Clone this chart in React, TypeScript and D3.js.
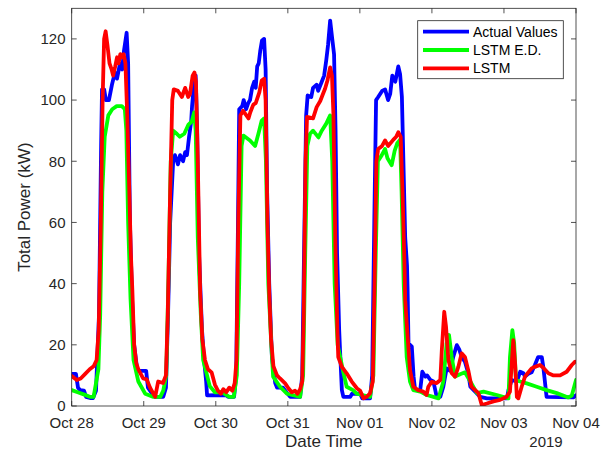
import React from 'react';
import * as d3 from 'd3';

// hours since Oct 28 2019 00:00 (UTC), value in kW
const actual: [number, number][] = [
  [0, 10.5], [1.4, 10.5], [2.1, 6], [2.8, 5.2], [4.1, 5], [4.8, 3], [6.1, 2.6], [7.1, 2.6], [8.1, 5],
  [9.1, 30], [9.8, 85], [10.1, 103.5], [10.8, 103.5], [11.4, 100], [12.4, 100], [13.4, 105], [14.4, 109],
  [15.1, 107], [16.1, 112], [16.8, 110], [17.4, 116], [18.3, 122], [18.8, 112], [19.4, 60], [20.1, 35],
  [20.8, 20], [21.8, 12], [22.8, 11.5], [24.8, 11.5], [25.4, 6], [26.8, 4], [27.8, 3], [30.5, 3],
  [31.4, 6], [32.1, 30],
  [32.8, 60], [33.8, 80], [34.4, 82], [35.4, 79], [36.1, 82], [37.1, 80], [37.8, 83], [38.4, 82],
  [39.1, 88], [39.8, 93], [40.1, 98], [40.8, 106], [41.3, 108], [41.8, 90], [42.4, 50], [43.4, 25],
  [44.1, 15], [44.8, 8], [45.1, 3.5], [51.4, 3.6], [52.1, 3], [54.1, 3], [54.8, 10], [55.4, 60],
  [55.8, 97], [56.8, 98], [57.3, 100], [58.1, 97], [58.8, 99], [59.4, 100], [60.1, 104], [60.8, 106],
  [61.3, 104], [61.8, 111], [62.3, 112], [62.8, 116], [63.4, 119.5], [64.1, 120], [64.6, 110],
  [65.1, 70], [65.8, 40], [66.7, 16], [67.8, 7.5], [68.4, 6], [70.4, 6], [71.7, 4.3], [72.8, 3],
  [76.1, 3], [76.8, 10], [77.4, 50],
  [78.1, 95], [78.6, 101.5], [79.8, 101], [80.4, 104], [81.6, 105], [82.1, 103], [83.3, 106],
  [84.1, 108], [84.8, 113], [85.4, 118], [86.1, 126], [86.8, 120], [87.4, 115], [87.9, 90],
  [88.4, 50], [89.1, 25], [89.4, 18], [90, 5.2], [90.5, 3], [92.8, 3], [93.4, 4], [96.1, 4],
  [96.8, 2.5], [99.4, 2.5], [100.1, 10], [100.8, 60],
  [101.4, 100], [102.1, 101], [103.4, 103], [104.4, 103.5], [105.4, 100], [106.1, 102], [106.8, 108],
  [107.8, 106], [108.8, 111], [109.4, 108.5], [110, 101], [110.5, 80], [111.1, 55], [111.7, 46],
  [111.9, 38], [112.2, 20.5], [113.3, 19.4], [113.9, 9.6], [114.4, 5.2], [116.1, 5.2], [116.8, 11.2],
  [117.8, 9.6], [118.4, 10], [119.5, 8.5], [120.5, 8], [121.6, 3], [122.8, 3], [123.8, 6.3],
  [124.9, 12.3], [126, 11.5], [127.1, 16], [128.3, 19.9], [129.1, 18.5], [129.9, 16], [131, 14.5],
  [132.1, 10.7], [132.8, 6.3], [134.4, 4.7], [136.1, 3], [138.3, 2.5], [145, 2.5], [145.5, 5.2],
  [146.6, 8.5], [148.3, 8], [149.4, 11.2], [150.5, 10.7], [151, 9.6], [152.1, 10.5], [153.2, 11],
  [154.3, 13.4], [155.4, 16], [156.6, 16], [157.1, 12.8], [158.2, 3], [167.1, 2.8], [168, 3.5],
];

const lstmED: [number, number][] = [
  [0, 5.2], [2, 4.5], [4, 3.8], [6, 3], [7.3, 3], [8.9, 12], [9.5, 30], [10.2, 70], [11, 88],
  [12.2, 95], [13.5, 97], [15, 98], [16.7, 98], [17.7, 97], [18.2, 90], [18.8, 60], [19.6, 35],
  [20.6, 15], [22.2, 8], [24.5, 4], [27, 3], [29.5, 3], [30.5, 5], [31.5, 10], [32.2, 40],
  [33, 80], [33.8, 90], [35, 89], [36, 88], [37.5, 89], [38.9, 92], [40, 93], [40.8, 96], [41.3, 90],
  [42, 55], [43, 30], [43.8, 15], [46, 6.5], [47.7, 4.5], [50, 4.5], [52.5, 3], [54, 3], [55, 10],
  [55.8, 40],
  [56.6, 85], [57.2, 88.4], [59.4, 86.8], [61.1, 85], [62.2, 89], [63.3, 93.3], [64.1, 94],
  [64.7, 80], [65.5, 40], [66.5, 20], [67.1, 9.6], [69.4, 6.3], [71.7, 4], [76.1, 3], [77.1, 10],
  [77.8, 50],
  [78.5, 85], [79.4, 89], [80.4, 90], [82.2, 87.8], [83.3, 90], [84.8, 92.3], [86.1, 95], [86.8, 80],
  [87.6, 40], [88.6, 20], [90.5, 11], [91.6, 6.3], [93.7, 5.2], [95, 4], [99.4, 3], [100.5, 10],
  [101.3, 50],
  [102, 80], [103.3, 82], [104.4, 84], [105.2, 81], [106.6, 78.7], [107.6, 83.5], [108.5, 86],
  [109.4, 87], [109.9, 70], [110.6, 40], [111.6, 16], [112.7, 8], [113.8, 5.2], [116.1, 4.7],
  [118.3, 3.6], [120.5, 3], [122.2, 2.5], [123.8, 8], [124.9, 20.5], [125.7, 23.2], [126.6, 16],
  [127.7, 9.6], [129.4, 10.4], [131, 11], [132.8, 8], [135, 4.2], [137.2, 4.7], [141.6, 3.6],
  [145.5, 2.5], [146, 16], [146.8, 24.8], [147.4, 20.5], [148, 8.5], [149.4, 8], [151.6, 7.4],
  [154.9, 6.3], [158.2, 5.2], [161.6, 4.2], [165.4, 2.8], [166.6, 3.4], [168, 8.5],
];

const lstm: [number, number][] = [
  [0, 9.8], [1.7, 8.5], [3, 9], [4.5, 10.5], [6, 12], [7.3, 13], [8.3, 15], [9, 25], [9.7, 60],
  [10.3, 100], [10.8, 120], [11.3, 122.5], [11.9, 118], [12.6, 112], [13.3, 110], [13.8, 108],
  [14.5, 111], [15.1, 114], [15.6, 112], [16.2, 115], [16.8, 114], [17.3, 115], [17.9, 112],
  [18.5, 95], [19.2, 70], [19.7, 50], [20.2, 38], [20.8, 20], [21.5, 14], [22.2, 12], [23.8, 9],
  [25, 8.7], [26.1, 6], [27.8, 3], [28.8, 8], [30.4, 7.5], [31.4, 10], [32, 30],
  [32.8, 70], [33.5, 100], [34, 103.5], [35.4, 103], [36.7, 101], [37.8, 104], [38.8, 101],
  [39.4, 102], [40.3, 108], [40.9, 109], [41.4, 106], [42, 80], [42.8, 37], [43.5, 22], [44.4, 15],
  [45.4, 12], [46.6, 11], [47.7, 7], [48.7, 5], [49.7, 4], [50.5, 5.5], [51.5, 4.5], [52.5, 6],
  [53.5, 5], [54.3, 7.5], [54.9, 15], [55.5, 60],
  [56.2, 95], [57.1, 96.5], [58.2, 95], [58.9, 94], [59.5, 96], [60.5, 98.5], [61.3, 99],
  [62.5, 102.5], [63.3, 106.4], [64.1, 107], [64.6, 100], [65.2, 60], [65.8, 37], [66.4, 22],
  [67.2, 13], [68.4, 10], [69.4, 9], [71.1, 7.4], [72.2, 5.8], [73.3, 4.5], [74.4, 5], [75.2, 4],
  [76.1, 5.5], [76.8, 8], [77.3, 30],
  [77.9, 80], [78.4, 94.5], [80.4, 94], [81.6, 97.7], [82.8, 99.7], [83.7, 102], [84.4, 103.7],
  [85.2, 106.4], [86.1, 110.7], [86.7, 108], [87.2, 95], [87.8, 55], [88.5, 25], [88.8, 16],
  [90, 12.8], [91.6, 10.7], [93.3, 8], [95, 5.8], [96.1, 5], [97.2, 2.5], [98.3, 3], [99.4, 4.2],
  [100.3, 8], [100.9, 40],
  [101.5, 80], [102.1, 84], [103.4, 85], [104.4, 86.8], [105.4, 85], [107.1, 87], [108.1, 88],
  [108.8, 89.5], [109.6, 88], [110.2, 70], [110.9, 45], [111.1, 34.6], [111.6, 27], [112.7, 11.7],
  [113.8, 6.3], [115.4, 5.2], [117.1, 4.7], [118.2, 3.6], [118.8, 6.3], [119.9, 7.9], [121.6, 7.5],
  [122.8, 8.5], [123.3, 18.3], [124.1, 30.8], [124.7, 25.9], [125.5, 15], [126.6, 10.7],
  [127.7, 9.6], [128.8, 12.8], [129.9, 17.2], [131, 16], [132.1, 11.7], [133.2, 6.3], [134.4, 5.2],
  [135.5, 4.2], [136.6, 0.3], [138.3, 0.8], [140.5, 1.5], [142.7, 2], [144.9, 3], [146, 4.7],
  [146.6, 13.9], [147.1, 21.5], [147.7, 14], [148.3, 3], [148.8, 2.5], [149.9, 6.3], [151, 9.6],
  [152.1, 11], [153.2, 12.3], [154.3, 12.8], [156, 13.4], [157.1, 12.5], [158.8, 10.7], [160.5, 10],
  [162.7, 10], [164.9, 11.2], [166.6, 13.4], [167.7, 14.5],
];

const seriesNames = ['Actual Values', 'LSTM E.D.', 'LSTM'];
const seriesColors = ['#0000ff', '#00ff00', '#ff0000'];
const yTicks = [0, 20, 40, 60, 80, 100, 120];

const start = Date.UTC(2019, 9, 28);
const end = Date.UTC(2019, 10, 4);

const W = 602;
const H = 451;
const left = 71.7;
const right = 576;
const top = 8.3;
const bottom = 406;

export default function App() {
  const x = d3.scaleUtc().domain([new Date(start), new Date(end)]).range([left, right]);
  const y = d3.scaleLinear().domain([0, 130]).range([bottom, top]);
  const line = d3
    .line<[number, number]>()
    .x((d) => x(new Date(start + d[0] * 3600e3)))
    .y((d) => y(d[1]));
  const xTicks = d3.utcDay.range(new Date(start), new Date(end + 1));
  const fmt = d3.utcFormat('%b %d');
  const font = "'Liberation Sans', Arial, Helvetica, sans-serif";
  const axisColor = '#262626';
  const tickLen = 5;
  const all = [actual, lstmED, lstm];

  return (
    <div style={{ position: 'absolute', left: 0, top: 0 }}>
      <svg width={W} height={H} style={{ display: 'block', background: '#fff' }} fontFamily={font}>
        <defs>
          <clipPath id="plot">
            <rect x={left} y={top} width={right - left} height={bottom - top} />
          </clipPath>
        </defs>
        <g clipPath="url(#plot)">
          {all.map((s, i) => (
            <path
              key={i}
              d={line(s) || ''}
              fill="none"
              stroke={seriesColors[i]}
              strokeWidth={3.8}
              strokeLinejoin="round"
              strokeLinecap="round"
            />
          ))}
        </g>
        <rect
          x={left}
          y={top}
          width={right - left}
          height={bottom - top}
          fill="none"
          stroke={axisColor}
          strokeWidth={0.8}
        />
        {xTicks.map((t, i) => (
          <g key={i}>
            <line x1={x(t)} x2={x(t)} y1={bottom} y2={bottom - tickLen} stroke={axisColor} strokeWidth={0.8} />
            <line x1={x(t)} x2={x(t)} y1={top} y2={top + tickLen} stroke={axisColor} strokeWidth={0.8} />
            <text x={x(t)} y={428} textAnchor="middle" fontSize={15} fill={axisColor}>
              {fmt(t)}
            </text>
          </g>
        ))}
        {yTicks.map((t) => (
          <g key={t}>
            <line x1={left} x2={left + tickLen} y1={y(t)} y2={y(t)} stroke={axisColor} strokeWidth={0.8} />
            <line x1={right} x2={right - tickLen} y1={y(t)} y2={y(t)} stroke={axisColor} strokeWidth={0.8} />
            <text x={65.5} y={y(t) + 5.3} textAnchor="end" fontSize={15} fill={axisColor}>
              {t}
            </text>
          </g>
        ))}
        <text x={546} y={447} textAnchor="middle" fontSize={15} fill={axisColor}>
          2019
        </text>
        <text x={(left + right) / 2} y={446.5} textAnchor="middle" fontSize={17} fill={axisColor}>
          Date Time
        </text>
        <text
          transform={`translate(29.5, ${(top + bottom) / 2}) rotate(-90)`}
          textAnchor="middle"
          fontSize={17}
          fill={axisColor}
        >
          Total Power (kW)
        </text>
        <g>
          <rect x={417.7} y={20.7} width={145.6} height={58} fill="#fff" stroke={axisColor} strokeWidth={0.8} />
          {seriesNames.map((n, i) => {
            const ly = 31.7 + i * 18.3;
            return (
              <g key={n}>
                <line x1={423} x2={469} y1={ly} y2={ly} stroke={seriesColors[i]} strokeWidth={3.8} />
                <text x={473} y={ly + 5} fontSize={14} fill="#000">
                  {n}
                </text>
              </g>
            );
          })}
        </g>
      </svg>
    </div>
  );
}
